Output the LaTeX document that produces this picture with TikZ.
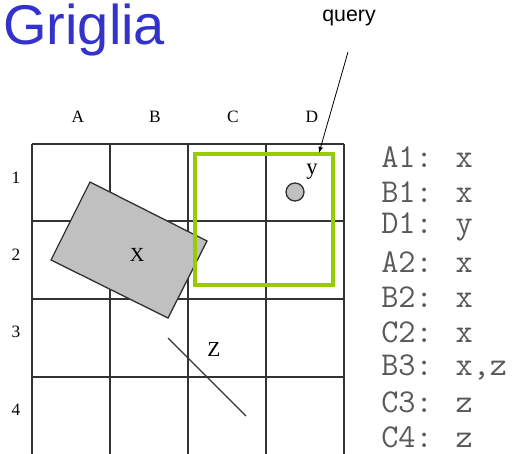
\documentclass[tikz,border=0pt]{standalone}
\usepackage{fontspec}
\setmainfont{Liberation Serif}
\setsansfont{Liberation Sans}
\usetikzlibrary{arrows.meta}
\tikzset{>=latex}
\definecolor{titleblue}{RGB}{51,51,204}
\definecolor{querygreen}{RGB}{153,204,0}
\definecolor{shapegray}{RGB}{192,192,192}
\tikzset{
  gridline/.style={draw=black!80, line width=1.3pt},
  objline/.style={draw=black!80, line width=1pt},
  axislabel/.style={font=\fontsize{13}{13}\selectfont},
  cellentry/.style={anchor=west, inner sep=0pt, text=black!65, font=\ttfamily\fontsize{25}{25}\selectfont},
}

\begin{document}
\begin{tikzpicture}[x=0.75pt, y=-0.75pt]
  \useasboundingbox (0,0) rectangle (513,453);
  \node[anchor=west, inner sep=0pt, text=titleblue, font=\sffamily\fontsize{42}{42}\selectfont] (title) at (3,30) {Griglia};
  \node[font=\sffamily\fontsize{16}{16}\selectfont] (query) at (349,18) {query};

  % griglia 4x4
  \foreach \x in {32,110,188,266,344}
    \draw[gridline] (\x,144) -- (\x,456);
  \foreach \y in {144,221,299,377}
    \draw[gridline] (32,\y) -- (344,\y);
  \foreach \c/\x in {A/78,B/155,C/233,D/312}
    \node[axislabel] (col\c) at (\x,117) {\c};
  \foreach \r/\y in {1/178,2/255,3/332,4/410}
    \node[axislabel] (row\r) at (16,\y) {\r};

  % oggetti x, y, z
  \draw[objline, fill=shapegray] (90,182) -- (207,241) -- (168,318) -- (51,260) -- cycle;
  \node[axislabel, font=\fontsize{15}{15}\selectfont] (objx) at (137,255) {X};
  \draw[objline, fill=shapegray] (295,192) circle (9);
  \node[axislabel, font=\fontsize{17}{17}\selectfont] (objy) at (312,172) {y};
  \draw[objline] (168,338) -- (246,416);
  \node[axislabel, font=\fontsize{16}{16}\selectfont] (objz) at (214,350) {Z};

  % finestra di query
  \draw[draw=querygreen, line width=2.5pt] (195,154) rectangle (333,285);
  \coordinate (qstart) at (348,52);
  \coordinate (qtip) at (319,153);
  \draw[->, line width=0.6pt] (qstart) -- (qtip);

  % contenuto delle celle
  \foreach \k/\t in {0/{A1: x},1/{B1: x},2/{D1: y},3/{A2: x},4/{B2: x},5/{C2: x},6/{B3: x,z},7/{C3: z},8/{C4: z}}
    \node[cellentry] (cell\k) at (381,157+35*\k) {\t};
\end{tikzpicture}
\end{document}
